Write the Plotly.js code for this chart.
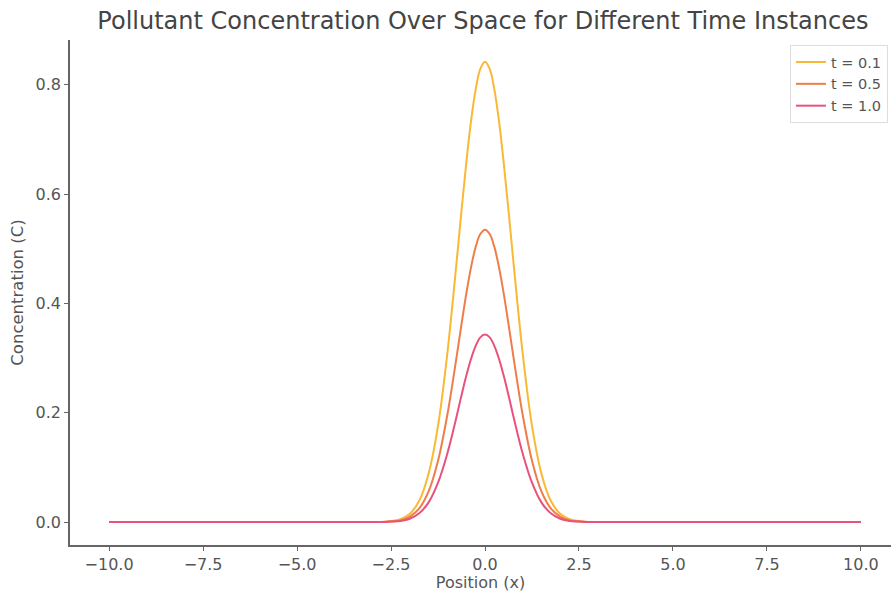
<!DOCTYPE html>
<html>
<head>
<meta charset="utf-8">
<script src="https://cdn.plot.ly/plotly-3.0.1.min.js"></script>
<style>html,body{margin:0;padding:0;background:#fff;overflow:hidden}#chart{width:891px;height:592px}</style>
</head>
<body>
<div id="chart"></div>
<script>
// Positions (x) sampled along the curves
const positions = [-10, -9, -8, -7, -6, -5, -4, -3.5, -3, -2.75, -2.5, -2.25, -2, -1.75, -1.5, -1.25, -1, -0.75, -0.625, -0.5, -0.375, -0.25, -0.125, 0,
                   0.125, 0.25, 0.375, 0.5, 0.625, 0.75, 1, 1.25, 1.5, 1.75, 2, 2.25, 2.5, 2.75, 3, 3.5, 4, 5, 6, 7, 8, 9, 10];
// Concentration readings for each time instance
const conc_t01 = [0, 0, 0, 0, 0, 0, 0, 0, 0, 0.000, 0.002, 0.005, 0.015, 0.039, 0.089, 0.176, 0.310, 0.480, 0.570, 0.656, 0.732, 0.791, 0.829, 0.842,
                  0.829, 0.791, 0.732, 0.656, 0.570, 0.480, 0.310, 0.176, 0.089, 0.039, 0.015, 0.005, 0.002, 0.000, 0, 0, 0, 0, 0, 0, 0, 0, 0];
const conc_t05 = [0, 0, 0, 0, 0, 0, 0, 0, 0, 0.000, 0.001, 0.003, 0.010, 0.025, 0.056, 0.112, 0.197, 0.305, 0.362, 0.417, 0.465, 0.503, 0.527, 0.535,
                  0.527, 0.503, 0.465, 0.417, 0.362, 0.305, 0.197, 0.112, 0.056, 0.025, 0.010, 0.003, 0.001, 0.000, 0, 0, 0, 0, 0, 0, 0, 0, 0];
const conc_t10 = [0, 0, 0, 0, 0, 0, 0, 0, 0, 0.000, 0.001, 0.002, 0.006, 0.016, 0.036, 0.072, 0.126, 0.195, 0.232, 0.267, 0.298, 0.322, 0.338, 0.343,
                  0.338, 0.322, 0.298, 0.267, 0.232, 0.195, 0.126, 0.072, 0.036, 0.016, 0.006, 0.002, 0.001, 0.000, 0, 0, 0, 0, 0, 0, 0, 0, 0];
const seriesNames = ['t = 0.1', 't = 0.5', 't = 1.0'];
const xTicks = [-10, -7.5, -5, -2.5, 0, 2.5, 5, 7.5, 10];
const yTicks = [0, 0.2, 0.4, 0.6, 0.8];

const colors = ['#f9b934', '#ef7d4a', '#e8527c'];
const series = [conc_t01, conc_t05, conc_t10];
const traces = series.map((ys, i) => ({
  x: positions, y: ys, type: 'scatter', mode: 'lines', name: seriesNames[i],
  line: {color: colors[i], width: 2, shape: 'spline', smoothing: 1}
}));

const axisCommon = {
  showgrid: false, zeroline: false, showline: true, linecolor: '#666', linewidth: 1.5,
  ticks: 'outside', ticklen: 4, tickwidth: 1, tickcolor: '#666',
  tickfont: {family: 'DejaVu Sans', size: 16, color: '#555'}, tickformat: '.1f', mirror: false
};

const layout = {
  width: 891, height: 592,
  margin: {l: 70, r: 0, t: 40, b: 47},
  paper_bgcolor: '#fff', plot_bgcolor: '#fff',
  title: {text: 'Pollutant Concentration Over Space for Different Time Instances',
          font: {family: 'DejaVu Sans', size: 24, color: '#444'}, x: 0.542, xanchor: 'center', y: 0.965, yanchor: 'middle', xref: 'container'},
  xaxis: Object.assign({}, axisCommon, {range: [-11.04, 10.80], tickvals: xTicks,
          title: {text: 'Position (x)', font: {family: 'DejaVu Sans', size: 16, color: '#555'}, standoff: 0}}),
  yaxis: Object.assign({}, axisCommon, {range: [-0.042, 0.882], tickvals: yTicks,
          title: {text: 'Concentration (C)', font: {family: 'DejaVu Sans', size: 16.5, color: '#555'}, standoff: 8}}),
  legend: {x: 0.9963, y: 0.99, xanchor: 'right', yanchor: 'top', bgcolor: 'rgba(255,255,255,0.9)',
           bordercolor: '#ddd', borderwidth: 1, font: {family: 'DejaVu Sans', size: 14.5, color: '#555'},
           itemwidth: 30, tracegroupgap: 0},
  showlegend: true
};

Plotly.newPlot('chart', traces, layout, {displayModeBar: false, responsive: false});
</script>
</body>
</html>
